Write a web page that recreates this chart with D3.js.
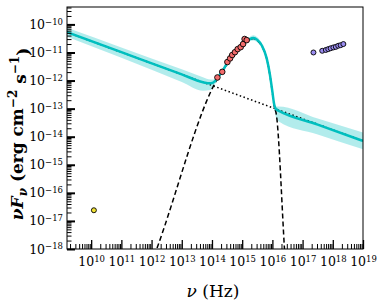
<!DOCTYPE html>
<html lang='en'>
<head>
	<meta charset='UTF-8'/>
	<title>SED</title>
	<script src='https://cdnjs.cloudflare.com/ajax/libs/d3/7.8.5/d3.min.js'></script>
	<style>
		body {margin: 0; background: #fff;}
		svg {display: block;}
	</style>
</head>
<body>
	<div class='graph'></div>
	<script>
		// all values are log10 (nu in Hz, nuFnu in erg cm^-2 s^-1)
		const xTickExps = [10, 11, 12, 13, 14, 15, 16, 17, 18, 19];
		const yTickExps = [-18, -17, -16, -15, -14, -13, -12, -11, -10];

		// total model (cyan) and its uncertainty band
		const modelNu = [9.2, 11.0, 13.0, 13.7, 13.95, 14.1, 14.2, 14.35, 14.5, 14.7, 14.9, 15.1, 15.25, 15.37, 15.5, 15.65, 15.81, 15.92, 16.0, 16.06, 16.12, 16.2, 17.5, 19.0];
		const modelF = [-10.28, -10.99, -11.78, -12.06, -12.10, -12.02, -11.88, -11.66, -11.38, -11.08, -10.85, -10.63, -10.52, -10.48, -10.55, -10.75, -11.20, -11.80, -12.40, -12.85, -13.02, -13.07, -13.57, -14.15];
		const bandHi = [-10.12, -10.82, -11.60, -11.88, -11.96, -11.95, -11.83, -11.62, -11.34, -11.04, -10.81, -10.58, -10.45, -10.39, -10.46, -10.68, -11.15, -11.76, -12.36, -12.80, -12.92, -12.92, -13.35, -13.85];
		const bandLo = [-10.44, -11.19, -12.05, -12.36, -12.34, -12.14, -11.94, -11.70, -11.42, -11.12, -10.89, -10.68, -10.59, -10.57, -10.64, -10.82, -11.25, -11.84, -12.45, -12.95, -13.32, -13.45, -13.92, -14.45];

		// power-law component (dotted)
		const plNu = [9.2, 19.0];
		const plF = [-10.28, -14.15];

		// thermal bump component (dashed)
		const bumpNu = [12.0, 12.17, 14.2, 14.5, 14.8, 15.1, 15.25, 15.37, 15.5, 15.65, 15.81, 15.92, 16.0, 16.06, 16.13, 16.4, 16.5];
		const bumpF = [-18.5, -18.0, -11.90, -11.42, -10.98, -10.66, -10.54, -10.50, -10.57, -10.77, -11.22, -11.82, -12.43, -12.90, -13.20, -18.0, -19.8];

		// observations
		const radioNu = [10.09];
		const radioF = [-16.62];
		const optNu = [14.18, 14.34, 14.51, 14.60, 14.67, 14.76, 14.85, 14.95, 15.03, 15.08, 15.15];
		const optF = [-11.89, -11.69, -11.34, -11.21, -11.09, -10.99, -10.88, -10.81, -10.70, -10.52, -10.56];
		const xrayNu = [17.36, 17.65, 17.77, 17.85, 17.93, 18.02, 18.10, 18.18, 18.26, 18.35];
		const xrayF = [-11.00, -10.94, -10.91, -10.88, -10.85, -10.82, -10.80, -10.76, -10.74, -10.70];

		const width = 382, height = 307;
		const margin = {top: 7, right: 19, bottom: 58, left: 67};
		const FONT = "'DejaVu Serif', serif";
		const p = v => Math.pow(10, v);

		const svg = d3.select('.graph').append('svg')
			.attr('width', width)
			.attr('height', height);

		const X = d3.scaleLog().domain([p(9.2), p(19)]).range([margin.left, width - margin.right]);
		const Y = d3.scaleLog().domain([p(-18), p(-9.38)]).range([height - margin.bottom, margin.top]);

		svg.append('clipPath').attr('id', 'clip')
			.append('rect')
			.attr('x', margin.left).attr('y', margin.top)
			.attr('width', X.range()[1] - margin.left)
			.attr('height', Y.range()[0] - margin.top);

		const plot = svg.append('g').attr('clip-path', 'url(#clip)');

		const pts = (nu, f) => nu.map((d, i) => [p(d), p(f[i])]);
		const line = d3.line().x(d => X(d[0])).y(d => Y(d[1])).curve(d3.curveMonotoneX);

		// band
		const band = d3.area()
			.x((d, i) => X(p(modelNu[i])))
			.y0(d => Y(p(d[0])))
			.y1(d => Y(p(d[1])))
			.curve(d3.curveMonotoneX);
		plot.append('path')
			.datum(bandLo.map((d, i) => [d, bandHi[i]]))
			.attr('d', band)
			.attr('fill', '#00bfbf')
			.attr('fill-opacity', 0.3);

		plot.append('path')
			.datum(pts(plNu, plF))
			.attr('d', line.curve(d3.curveLinear))
			.attr('fill', 'none')
			.attr('stroke', '#000')
			.attr('stroke-width', 1.5)
			.attr('stroke-dasharray', '1.5,2.5');

		line.curve(d3.curveMonotoneX);
		plot.append('path')
			.datum(pts(bumpNu, bumpF))
			.attr('d', line)
			.attr('fill', 'none')
			.attr('stroke', '#000')
			.attr('stroke-width', 1.5)
			.attr('stroke-dasharray', '5,3');

		plot.append('path')
			.datum(pts(modelNu, modelF))
			.attr('d', line)
			.attr('fill', 'none')
			.attr('stroke', '#00bfbf')
			.attr('stroke-width', 2.5);

		// data points
		const dots = (nu, f, color, r) => plot.append('g')
			.selectAll('circle')
			.data(pts(nu, f))
			.enter()
			.append('circle')
			.attr('cx', d => X(d[0]))
			.attr('cy', d => Y(d[1]))
			.attr('r', r)
			.attr('fill', color)
			.attr('stroke', '#000')
			.attr('stroke-width', 0.9);
		dots(radioNu, radioF, '#f2e234', 2.5);
		dots(optNu, optF, '#f26b6b', 2.8);
		dots(xrayNu, xrayF, '#9a8cf0', 2.5);

		// frame
		svg.append('rect')
			.attr('x', margin.left).attr('y', margin.top)
			.attr('width', X.range()[1] - margin.left)
			.attr('height', Y.range()[0] - margin.top)
			.attr('fill', 'none')
			.attr('stroke', '#000')
			.attr('stroke-width', 1);

		// minor ticks
		const minors = (exps) => {
			let out = [];
			for (let e = exps[0] - 1; e <= exps[exps.length - 1]; e++)
				for (let k = 2; k < 10; k++) out.push(k * p(e));
			return out;
		};
		const xMin = minors(xTickExps).filter(v => v > X.domain()[0] && v < X.domain()[1]);
		const yMin = minors(yTickExps).filter(v => v > Y.domain()[0] && v < Y.domain()[1]);

		svg.append('g')
			.attr('transform', 'translate(0,' + Y.range()[0] + ')')
			.call(d3.axisBottom(X).tickValues(xMin).tickSize(-5).tickSizeOuter(0).tickFormat(''))
			.call(g => g.select('.domain').remove());
		svg.append('g')
			.attr('transform', 'translate(' + margin.left + ',0)')
			.call(d3.axisLeft(Y).tickValues(yMin).tickSize(-4.5).tickSizeOuter(0).tickFormat(''))
			.call(g => g.select('.domain').remove());

		// major ticks + labels
		const sup = (sel, exp) => {
			sel.text('10');
			sel.append('tspan')
				.attr('dy', '-0.5em')
				.style('font-size', '8.5px')
				.text(String(exp).replace('-', '\u2212'));
		};

		const xAx = svg.append('g')
			.attr('transform', 'translate(0,' + Y.range()[0] + ')')
			.call(d3.axisBottom(X).tickValues(xTickExps.map(p)).tickSize(-9).tickSizeOuter(0).tickPadding(8));
		xAx.select('.domain').remove();
		xAx.selectAll('line').attr('stroke-width', 1.3);
		xAx.selectAll('text')
			.style('font-size', '12.5px')
			.style('font-family', FONT)
			.each(function (d, i) { sup(d3.select(this), xTickExps[i]); });

		const yAx = svg.append('g')
			.attr('transform', 'translate(' + margin.left + ',0)')
			.call(d3.axisLeft(Y).tickValues(yTickExps.map(p)).tickSize(-8).tickSizeOuter(0).tickPadding(4));
		yAx.select('.domain').remove();
		yAx.selectAll('line').attr('stroke-width', 2);
		yAx.selectAll('text')
			.style('font-size', '12.5px')
			.style('font-family', FONT)
			.each(function (d, i) { sup(d3.select(this), yTickExps[i]); });

		// axis titles
		const xl = svg.append('text')
			.attr('x', 213)
			.attr('y', 297)
			.attr('text-anchor', 'middle')
			.style('font-family', FONT)
			.style('font-size', '17px');
		xl.append('tspan').style('font-style', 'italic').text('\u03bd');
		xl.append('tspan').text(' (Hz)');

		const yl = svg.append('text')
			.attr('transform', 'translate(23,' + 134 + ') rotate(-90)')
			.attr('text-anchor', 'middle')
			.style('font-family', FONT)
			.style('font-size', '17px')
			.style('font-weight', 'bold');
		yl.append('tspan').style('font-style', 'italic').text('\u03bdF');
		yl.append('tspan').style('font-style', 'italic').style('font-size', '12px').attr('dy', '0.3em').text('\u03bd');
		yl.append('tspan').attr('dy', '-0.2em').text(' (erg cm');
		yl.append('tspan').style('font-size', '12px').attr('dy', '-0.55em').text('\u22122');
		yl.append('tspan').attr('dy', '0.55em').text(' s');
		yl.append('tspan').style('font-size', '12px').attr('dy', '-0.55em').text('\u22121');
		yl.append('tspan').attr('dy', '0.55em').text(')');
	</script>
</body>
</html>
